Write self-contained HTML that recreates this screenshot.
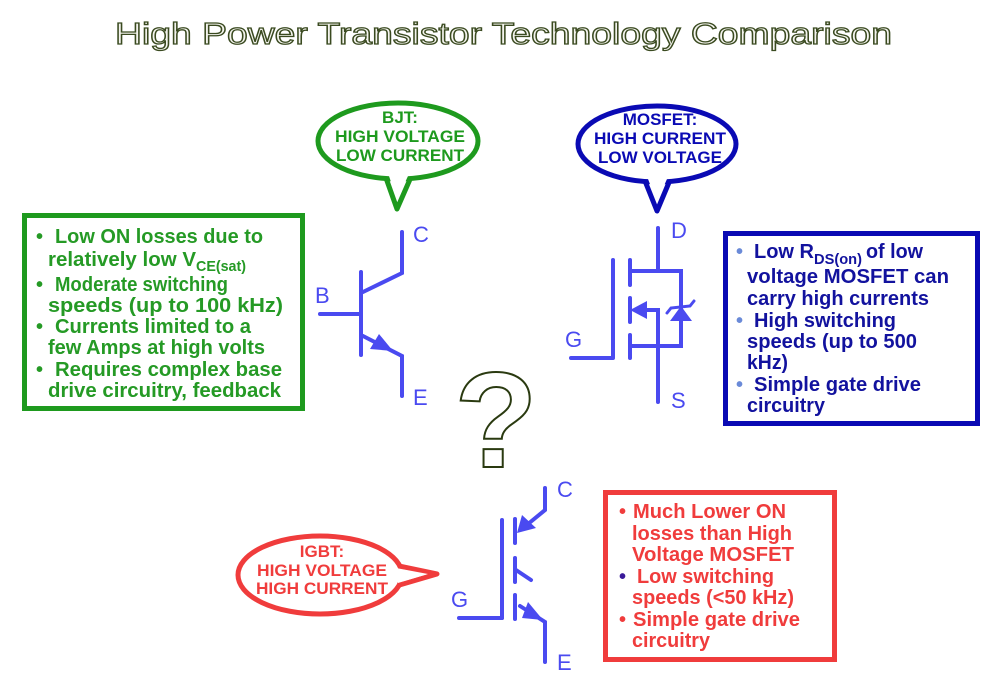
<!DOCTYPE html>
<html><head><meta charset="utf-8"><style>
html,body{margin:0;padding:0;background:#fff;}
svg{display:block;}
text{font-family:"Liberation Sans",sans-serif;}
.g{fill:#259a25;font-weight:bold;font-size:20px;}
.b{fill:#12129e;font-weight:bold;font-size:20px;}
.r{fill:#f03c3c;font-weight:bold;font-size:20px;}
.lbl{fill:#4a4af0;font-size:22px;}
.sym{stroke:#4a4af0;stroke-width:4;fill:none;stroke-linecap:round;}
</style></head><body>
<svg width="1003" height="694" viewBox="0 0 1003 694" xmlns="http://www.w3.org/2000/svg">
<text x="115" y="44" font-size="31" textLength="777" lengthAdjust="spacingAndGlyphs" fill="#f4f4ee" stroke="#3a4a20" stroke-width="1.3">High Power Transistor Technology Comparison</text>

<rect x="24.5" y="215.5" width="278" height="193" fill="none" stroke="#1e9a1e" stroke-width="5"/>
<g class="g">
<text x="36" y="243">•</text><text x="55" y="243" textLength="208" lengthAdjust="spacingAndGlyphs">Low ON losses due to</text>
<text x="48" y="266" textLength="148" lengthAdjust="spacingAndGlyphs">relatively low V</text><text x="196" y="271" font-size="15" textLength="50" lengthAdjust="spacingAndGlyphs">CE(sat)</text>
<text x="36" y="291">•</text><text x="55" y="291" textLength="173" lengthAdjust="spacingAndGlyphs">Moderate switching</text>
<text x="48" y="312" textLength="235" lengthAdjust="spacingAndGlyphs">speeds (up to 100 kHz)</text>
<text x="36" y="333">•</text><text x="55" y="333" textLength="196" lengthAdjust="spacingAndGlyphs">Currents limited to a</text>
<text x="48" y="354" textLength="217" lengthAdjust="spacingAndGlyphs">few Amps at high volts</text>
<text x="36" y="376">•</text><text x="55" y="376" textLength="227" lengthAdjust="spacingAndGlyphs">Requires complex base</text>
<text x="48" y="397" textLength="233" lengthAdjust="spacingAndGlyphs">drive circuitry, feedback</text>
</g>

<rect x="725.5" y="233.5" width="252" height="190" fill="none" stroke="#0a0ab4" stroke-width="5"/>
<g class="b">
<text x="736" y="258" fill="#6a8ad8">•</text>
<text x="754" y="258" textLength="60" lengthAdjust="spacingAndGlyphs">Low R</text>
<text x="814" y="264" font-size="15" textLength="48" lengthAdjust="spacingAndGlyphs">DS(on)</text>
<text x="866" y="258" textLength="57" lengthAdjust="spacingAndGlyphs">of low</text>
<text x="747" y="283" textLength="202" lengthAdjust="spacingAndGlyphs">voltage MOSFET can</text>
<text x="747" y="305" textLength="182" lengthAdjust="spacingAndGlyphs">carry high currents</text>
<text x="736" y="327" fill="#6a8ad8">•</text><text x="754" y="327" textLength="142" lengthAdjust="spacingAndGlyphs">High switching</text>
<text x="747" y="348" textLength="170" lengthAdjust="spacingAndGlyphs">speeds (up to 500</text>
<text x="747" y="369" textLength="41" lengthAdjust="spacingAndGlyphs">kHz)</text>
<text x="736" y="391" fill="#6a8ad8">•</text><text x="754" y="391" textLength="167" lengthAdjust="spacingAndGlyphs">Simple gate drive</text>
<text x="747" y="412" textLength="78" lengthAdjust="spacingAndGlyphs">circuitry</text>
</g>

<rect x="605.5" y="492.5" width="229" height="167" fill="none" stroke="#f03c3c" stroke-width="5"/>
<g class="r">
<text x="619" y="518">•</text><text x="633" y="518" textLength="153" lengthAdjust="spacingAndGlyphs">Much Lower ON</text>
<text x="632" y="540" textLength="160" lengthAdjust="spacingAndGlyphs">losses than High</text>
<text x="632" y="561" textLength="162" lengthAdjust="spacingAndGlyphs">Voltage MOSFET</text>
<text x="619" y="583" fill="#3a1a9a">•</text><text x="637" y="583" textLength="137" lengthAdjust="spacingAndGlyphs">Low switching</text>
<text x="632" y="604" textLength="162" lengthAdjust="spacingAndGlyphs">speeds (&lt;50 kHz)</text>
<text x="619" y="626">•</text><text x="633" y="626" textLength="167" lengthAdjust="spacingAndGlyphs">Simple gate drive</text>
<text x="632" y="647" textLength="78" lengthAdjust="spacingAndGlyphs">circuitry</text>
</g>

<path d="M386,178 L397,209 L411,177" fill="#fff" stroke="#1e9a1e" stroke-width="5" stroke-linejoin="round"/>
<ellipse cx="398" cy="141" rx="80" ry="38" fill="#fff" stroke="#1e9a1e" stroke-width="5"/>
<path d="M389,176 L397,200 L408,176 Z" fill="#fff"/>
<g font-weight="bold" font-size="17" fill="#1e9a1e" text-anchor="middle">
<text x="400" y="123">BJT:</text><text x="400" y="142" textLength="130" lengthAdjust="spacingAndGlyphs">HIGH VOLTAGE</text><text x="400" y="161" textLength="128" lengthAdjust="spacingAndGlyphs">LOW CURRENT</text></g>

<path d="M645,181 L657,211 L670,180" fill="#fff" stroke="#0a0ab4" stroke-width="5" stroke-linejoin="round"/>
<ellipse cx="657" cy="144" rx="79" ry="38" fill="#fff" stroke="#0a0ab4" stroke-width="5"/>
<path d="M648,179 L657,202 L667,179 Z" fill="#fff"/>
<g font-weight="bold" font-size="17" fill="#0a0ab4" text-anchor="middle">
<text x="660" y="125">MOSFET:</text><text x="660" y="144" textLength="132" lengthAdjust="spacingAndGlyphs">HIGH CURRENT</text><text x="660" y="163" textLength="124" lengthAdjust="spacingAndGlyphs">LOW VOLTAGE</text></g>

<path d="M394,565 L437,574 L396,586" fill="#fff" stroke="#f03c3c" stroke-width="5" stroke-linejoin="round"/>
<ellipse cx="320" cy="575" rx="82" ry="39" fill="#fff" stroke="#f03c3c" stroke-width="5"/>
<path d="M396,568 L428,574 L398,583 Z" fill="#fff"/>
<g font-weight="bold" font-size="17" fill="#f03c3c" text-anchor="middle">
<text x="322" y="557">IGBT:</text><text x="322" y="576" textLength="130" lengthAdjust="spacingAndGlyphs">HIGH VOLTAGE</text><text x="322" y="594" textLength="132" lengthAdjust="spacingAndGlyphs">HIGH CURRENT</text></g>

<g class="sym">
<line x1="361" y1="272" x2="361" y2="355"/>
<line x1="320" y1="314" x2="361" y2="314"/>
<polyline points="363,292 402,273 402,232"/>
<polyline points="363,336 402,356 402,396"/>
</g>
<polygon points="393,351 370,349 379,334" fill="#4a4af0"/>
<text class="lbl" x="315" y="303">B</text>
<text class="lbl" x="413" y="242">C</text>
<text class="lbl" x="413" y="405">E</text>

<g class="sym">
<line x1="658" y1="228" x2="658" y2="271"/>
<polyline points="630,271 681,271 681,346 630,346"/>
<polyline points="645,310 658,310 658,402"/>
<line x1="613" y1="260" x2="613" y2="357"/>
<line x1="571" y1="358" x2="613" y2="358"/>
<line x1="630" y1="260" x2="630" y2="285"/>
<line x1="630" y1="298" x2="630" y2="322"/>
<line x1="630" y1="335" x2="630" y2="358"/>
<polyline points="667,313 671,308 690,306 694,301" stroke-width="3"/>
</g>
<polygon points="630,310 647,301 647,319" fill="#4a4af0"/>
<polygon points="681,306 670,321 692,321" fill="#4a4af0"/>
<text class="lbl" x="565" y="347">G</text>
<text class="lbl" x="671" y="238">D</text>
<text class="lbl" x="671" y="408">S</text>

<text x="496" y="467" font-size="136" font-weight="bold" text-anchor="middle" fill="#fff" stroke="#2a3a10" stroke-width="2">?</text>

<g class="sym">
<line x1="502" y1="520" x2="502" y2="618"/>
<line x1="459" y1="618" x2="502" y2="618"/>
<line x1="515" y1="519" x2="515" y2="543"/>
<line x1="515" y1="558" x2="515" y2="582"/>
<line x1="515" y1="595" x2="515" y2="619"/>
<polyline points="545,488 545,510 528,524"/>
<line x1="516" y1="570" x2="531" y2="580"/>
<polyline points="520,606 545,622 545,662"/>
</g>
<polygon points="517,533 522,515 536,528" fill="#4a4af0"/>
<polygon points="543,620 522,618 528,602" fill="#4a4af0"/>
<text class="lbl" x="557" y="497">C</text>
<text class="lbl" x="557" y="670">E</text>
<text class="lbl" x="451" y="607">G</text>
</svg>
</body></html>
